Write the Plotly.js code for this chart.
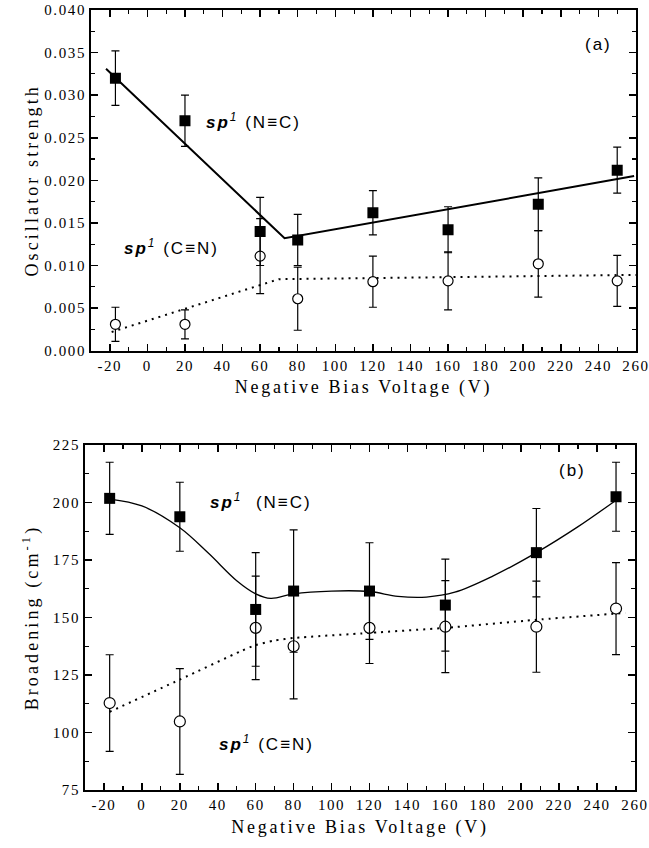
<!DOCTYPE html>
<html>
<head>
<meta charset="utf-8">
<script src="https://cdn.plot.ly/plotly-3.0.1.min.js"></script>
<style>
  html, body { margin: 0; padding: 0; background: #fff; }
  #chart { width: 649px; height: 848px; }
  .xtick text, .x2tick text, .ytick text, .y2tick text { letter-spacing: 1.6px; }
  text.xtitle, text.x2title { letter-spacing: 2.7px; }
  text.ytitle, text.y2title { letter-spacing: 3.1px; }
  text.annotation-text { letter-spacing: 2px; }
</style>
</head>
<body>
<div id="chart"></div>
<script>
// Shared x positions (negative bias voltage, V)
const biasV = [-17, 20, 60, 80, 120, 160, 208, 250];

// Panel (a): oscillator strength
const oscNC    = [0.032, 0.027, 0.014, 0.013, 0.0162, 0.0142, 0.0172, 0.0212];
const oscNCerr = [0.0032, 0.003, 0.004, 0.003, 0.0026, 0.0027, 0.0031, 0.0027];
const oscCN    = [0.0031, 0.0031, 0.0111, 0.0061, 0.0081, 0.0082, 0.0102, 0.0082];
const oscCNerr = [0.002, 0.0017, 0.0044, 0.0037, 0.003, 0.0034, 0.0039, 0.003];
// trend lines panel (a)
const oscFitNCx = [-22, 73, 259];
const oscFitNCy = [0.0331, 0.0132, 0.0205];
const oscFitCNx = [-19, 70, 260];
const oscFitCNy = [0.0022, 0.0084, 0.0089];

// Panel (b): broadening (cm^-1)
const brNC    = [201.8, 193.8, 153.5, 161.5, 161.5, 155.4, 178.2, 202.5];
const brNCerr = [15.7, 15, 24.7, 26.6, 21, 20, 19.2, 15];
const brCN    = [112.8, 104.8, 145.5, 137.5, 145.5, 146, 146, 153.9];
const brCNerr = [21, 23, 22.5, 22.9, 15.5, 20, 19.8, 20];
// trend curves panel (b)
const brFitNCx = [-17, 0, 20, 35, 50, 60, 68, 80, 100, 120, 135, 150, 165, 185, 208, 230, 250];
const brFitNCy = [201.5, 198.5, 189, 178, 166, 160.3, 158.3, 160.3, 161.5, 161.3, 159.2, 158.9, 161, 168, 178.2, 189.5, 201];
const brFitCNx = [-17, 20, 52, 60, 70, 80, 120, 160, 208, 255];
const brFitCNy = [109, 123, 135.3, 138, 140, 141.1, 143.3, 145.5, 149, 152];

// Tick / label texts
const xTickVals = [-20, 0, 20, 40, 60, 80, 100, 120, 140, 160, 180, 200, 220, 240, 260];
const xTickText = ['-20', '0', '20', '40', '60', '80', '100', '120', '140', '160', '180', '200', '220', '240', '260'];
const xTitle = 'Negative Bias Voltage (V)';
const yTitleA = 'Oscillator strength';
const yTitleB = 'Broadening (cm<sup>-1</sup>)';
const labelNC = '<b><i>sp</i></b><sup><i>1</i></sup> (N\u2261C)';
const labelNC2 = '<b><i>sp</i></b><sup><i>1</i></sup>  (N\u2261C)';
const labelCN = '<b><i>sp</i></b><sup><i>1</i></sup> (C\u2261N)';

const serif = 'Liberation Serif, Times New Roman, serif';
const sans = 'Liberation Sans, Arial, sans-serif';

function errBar(arr) {
  return { type: 'data', array: arr, visible: true, color: '#000', thickness: 1.2, width: 4 };
}

const traces = [
  // panel a fits
  { x: oscFitNCx, y: oscFitNCy, xaxis: 'x', yaxis: 'y', mode: 'lines',
    line: { color: '#000', width: 2 }, hoverinfo: 'skip' },
  { x: oscFitCNx, y: oscFitCNy, xaxis: 'x', yaxis: 'y', mode: 'lines',
    line: { color: '#000', width: 2, dash: '2px,5px' }, hoverinfo: 'skip' },
  // panel a data
  { x: biasV, y: oscCN, xaxis: 'x', yaxis: 'y', mode: 'markers', name: 'sp1 (C≡N)',
    error_y: errBar(oscCNerr),
    marker: { symbol: 'circle', size: 10, color: '#fff', line: { color: '#000', width: 1.2 } } },
  { x: biasV, y: oscNC, xaxis: 'x', yaxis: 'y', mode: 'markers', name: 'sp1 (N≡C)',
    error_y: errBar(oscNCerr),
    marker: { symbol: 'square', size: 11, color: '#000', line: { color: '#000', width: 0 } } },
  // panel b fits
  { x: brFitNCx, y: brFitNCy, xaxis: 'x2', yaxis: 'y2', mode: 'lines',
    line: { color: '#000', width: 1.3, shape: 'spline', smoothing: 1 }, hoverinfo: 'skip' },
  { x: brFitCNx, y: brFitCNy, xaxis: 'x2', yaxis: 'y2', mode: 'lines',
    line: { color: '#000', width: 2, dash: '2px,5px', shape: 'spline', smoothing: 0.6 }, hoverinfo: 'skip' },
  // panel b data
  { x: biasV, y: brCN, xaxis: 'x2', yaxis: 'y2', mode: 'markers', name: 'sp1 (C≡N)',
    error_y: errBar(brCNerr),
    marker: { symbol: 'circle', size: 11, color: '#fff', line: { color: '#000', width: 1.2 } } },
  { x: biasV, y: brNC, xaxis: 'x2', yaxis: 'y2', mode: 'markers', name: 'sp1 (N≡C)',
    error_y: errBar(brNCerr),
    marker: { symbol: 'square', size: 11, color: '#000', line: { color: '#000', width: 0 } } }
];

function xAxis(domain, anchor) {
  return {
    domain: domain, anchor: anchor, range: [-30, 260],
    tickmode: 'array', tickvals: xTickVals, ticktext: xTickText,
    ticks: 'inside', ticklen: 7, tickwidth: 1.5, tickcolor: '#000',
    minor: { tickmode: 'linear', tick0: 0, dtick: 10, ticks: 'inside', ticklen: 4, tickwidth: 1.2, tickcolor: '#000' },
    showline: true, linewidth: 2, linecolor: '#000', mirror: 'ticks',
    showgrid: false, zeroline: false, ticklabeloverflow: 'allow',
    tickfont: { family: serif, size: 15, color: '#000' },
    title: { text: xTitle, font: { family: serif, size: 18, color: '#000' }, standoff: 8 }
  };
}
function yAxis(domain, anchor, range, dtick, minorDtick, fmt, title) {
  return {
    domain: domain, anchor: anchor, range: range, tick0: range[0], dtick: dtick,
    tickformat: fmt,
    ticks: 'inside', ticklen: 7, tickwidth: 1.5, tickcolor: '#000',
    minor: { dtick: minorDtick, ticks: 'inside', ticklen: 4, tickwidth: 1.2, tickcolor: '#000' },
    showline: true, linewidth: 2, linecolor: '#000', mirror: 'ticks',
    showgrid: false, zeroline: false, ticklabeloverflow: 'allow',
    tickfont: { family: serif, size: 15, color: '#000' },
    title: { text: title, font: { family: serif, size: 18, color: '#000' } }
  };
}

const layout = {
  width: 649, height: 848,
  margin: { l: 0, r: 0, t: 0, b: 0 },
  paper_bgcolor: '#fff', plot_bgcolor: '#fff',
  showlegend: false,
  xaxis: xAxis([91 / 649, 636 / 649], 'y'),
  yaxis: yAxis([1 - 350.7 / 848, 1 - 10 / 848], 'x', [0, 0.04], 0.005, 0.0025, '.3f', yTitleA),
  xaxis2: xAxis([85 / 649, 635 / 649], 'y2'),
  yaxis2: yAxis([1 - 790 / 848, 1 - 445 / 848], 'x2', [75, 225], 25, 12.5, 'd', yTitleB),
  annotations: [
    { xref: 'x', yref: 'y', x: 30, y: 0.027, xanchor: 'left', yanchor: 'middle', showarrow: false,
      text: labelNC, font: { family: sans, size: 17, color: '#000' } },
    { xref: 'x', yref: 'y', x: -13.5, y: 0.0122, xanchor: 'left', yanchor: 'middle', showarrow: false,
      text: labelCN, font: { family: sans, size: 17, color: '#000' } },
    { xref: 'x', yref: 'y', x: 240, y: 0.036, xanchor: 'center', yanchor: 'middle', showarrow: false,
      text: '(a)', font: { family: sans, size: 17, color: '#000' } },
    { xref: 'x2', yref: 'y2', x: 34.8, y: 200.7, xanchor: 'left', yanchor: 'middle', showarrow: false,
      text: labelNC2, font: { family: sans, size: 17, color: '#000' } },
    { xref: 'x2', yref: 'y2', x: 39.6, y: 95.4, xanchor: 'left', yanchor: 'middle', showarrow: false,
      text: labelCN, font: { family: sans, size: 17, color: '#000' } },
    { xref: 'x2', yref: 'y2', x: 227, y: 213.8, xanchor: 'center', yanchor: 'middle', showarrow: false,
      text: '(b)', font: { family: sans, size: 17, color: '#000' } }
  ]
};

Plotly.newPlot('chart', traces, layout, { staticPlot: true, displayModeBar: false });
</script>
</body>
</html>
